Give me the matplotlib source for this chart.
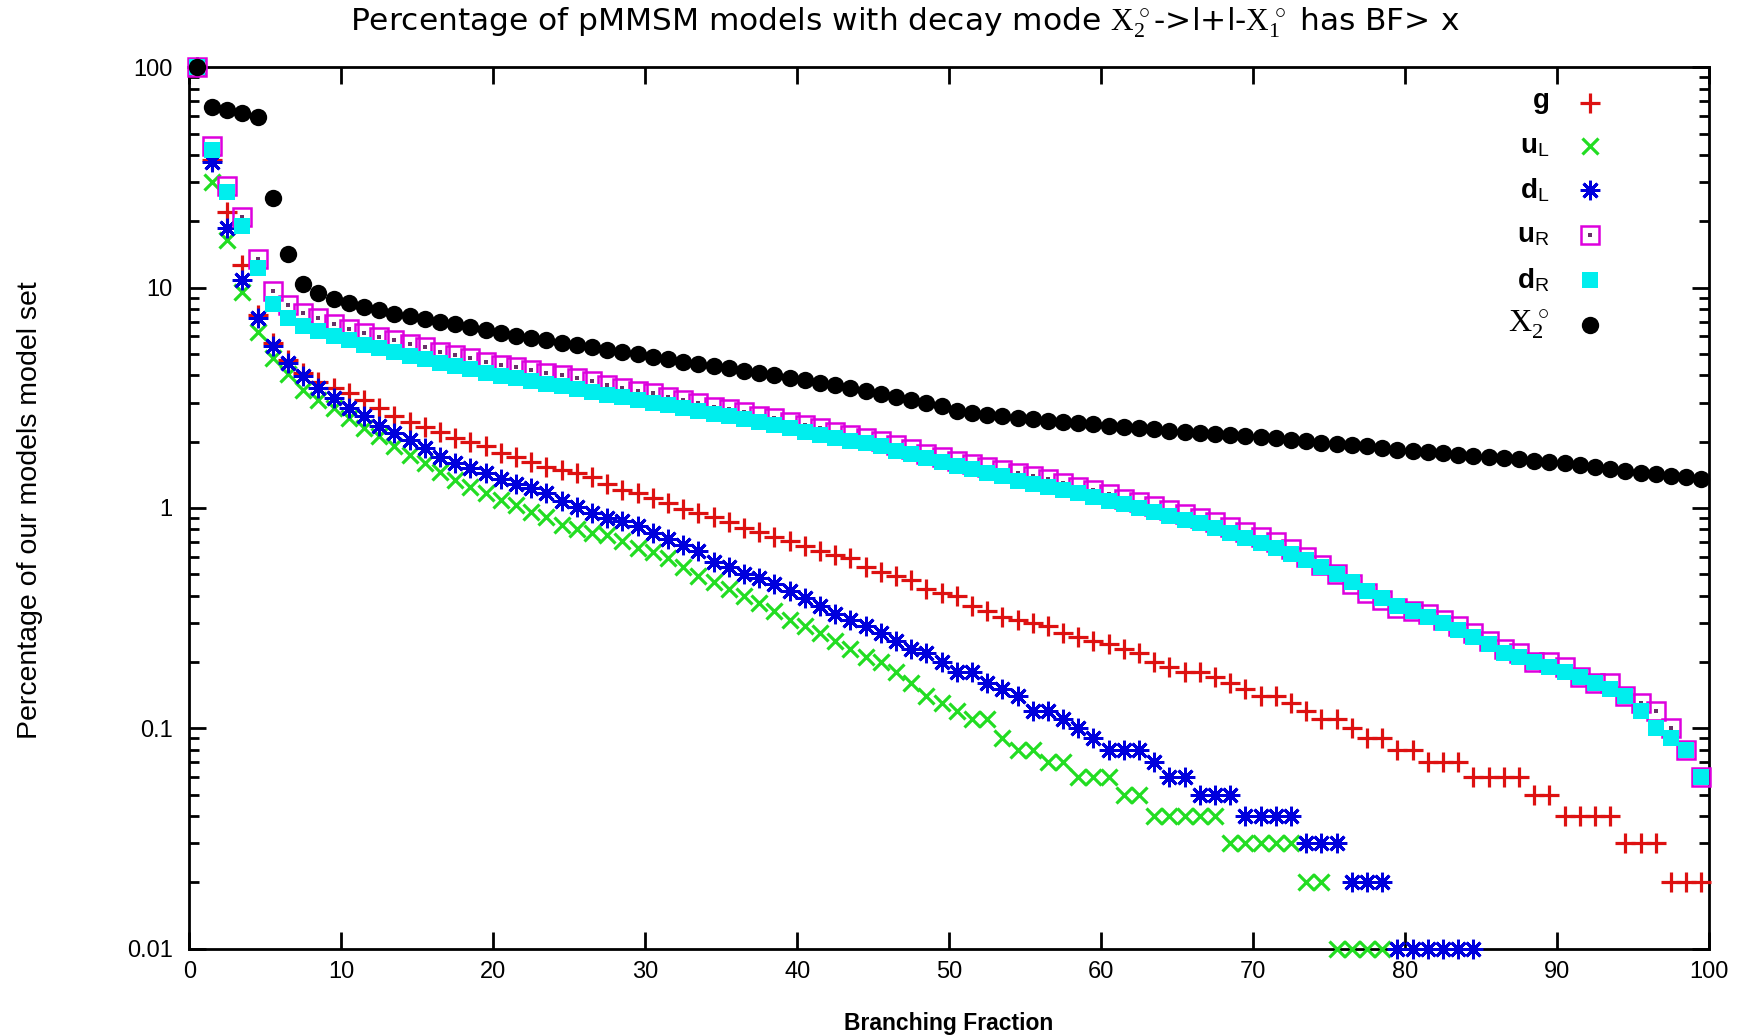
import numpy as np
import matplotlib
matplotlib.use('Agg')
import matplotlib.pyplot as plt
from matplotlib.ticker import FixedLocator, LogLocator, NullFormatter

nan = np.nan

# Branching-fraction bins (bin centres, %)
bf = np.arange(0.5, 100.0, 1.0)

g = [100, 38, 22, 12.7, 7.5, 5.6, 4.7, 4.1, 3.74, 3.49,
     3.31, 3.09, 2.83, 2.6, 2.46, 2.33, 2.2, 2.08, 2.0, 1.9,
     1.78, 1.71, 1.62, 1.54, 1.49, 1.44, 1.38, 1.29, 1.21, 1.17,
     1.11, 1.05, 0.99, 0.95, 0.91, 0.86, 0.81, 0.78, 0.74, 0.71,
     0.67, 0.64, 0.61, 0.59, 0.54, 0.51, 0.49, 0.47, 0.43, 0.41,
     0.40, 0.36, 0.34, 0.32, 0.31, 0.30, 0.29, 0.27, 0.26, 0.25,
     0.24, 0.23, 0.22, 0.20, 0.19, 0.18, 0.18, 0.17, 0.16, 0.15,
     0.14, 0.14, 0.13, 0.12, 0.11, 0.11, 0.10, 0.09, 0.09, 0.08,
     0.08, 0.07, 0.07, 0.07, 0.06, 0.06, 0.06, 0.06, 0.05, 0.05,
     0.04, 0.04, 0.04, 0.04, 0.03, 0.03, 0.03, 0.02, 0.02, 0.02]

uL = [100, 30, 16.5, 9.5, 6.3, 4.8, 4.05, 3.43, 3.09, 2.83,
      2.55, 2.3, 2.11, 1.9, 1.74, 1.6, 1.46, 1.34, 1.25, 1.17,
      1.09, 1.03, 0.96, 0.91, 0.84, 0.8, 0.77, 0.75, 0.71, 0.66,
      0.63, 0.59, 0.54, 0.49, 0.46, 0.43, 0.4, 0.37, 0.34, 0.31,
      0.29, 0.27, 0.25, 0.23, 0.21, 0.2, 0.18, 0.16, 0.14, 0.13,
      0.12, 0.11, 0.11, 0.09, 0.08, 0.08, 0.07, 0.07, 0.06, 0.06,
      0.06, 0.05, 0.05, 0.04, 0.04, 0.04, 0.04, 0.04, 0.03, 0.03,
      0.03, 0.03, 0.03, 0.02, 0.02, 0.01, 0.01, 0.01, 0.01, nan,
      nan, nan, nan, nan, nan, nan, nan, nan, nan, nan,
      nan, nan, nan, nan, nan, nan, nan, nan, nan, nan]

dL = [100, 37, 18.6, 10.8, 7.3, 5.45, 4.53, 3.95, 3.49, 3.15,
      2.83, 2.6, 2.36, 2.18, 2.04, 1.87, 1.71, 1.6, 1.51, 1.44,
      1.35, 1.29, 1.23, 1.17, 1.07, 1.01, 0.95, 0.9, 0.87, 0.83,
      0.77, 0.72, 0.68, 0.64, 0.57, 0.54, 0.5, 0.48, 0.45, 0.42,
      0.39, 0.36, 0.33, 0.31, 0.29, 0.27, 0.25, 0.23, 0.22, 0.2,
      0.18, 0.18, 0.16, 0.15, 0.14, 0.12, 0.12, 0.11, 0.1, 0.09,
      0.08, 0.08, 0.08, 0.07, 0.06, 0.06, 0.05, 0.05, 0.05, 0.04,
      0.04, 0.04, 0.04, 0.03, 0.03, 0.03, 0.02, 0.02, 0.02, 0.01,
      0.01, 0.01, 0.01, 0.01, 0.01, nan, nan, nan, nan, nan,
      nan, nan, nan, nan, nan, nan, nan, nan, nan, nan]

uR = [100, 44, 29, 21, 13.5, 9.6, 8.3, 7.65, 7.26, 6.8,
      6.46, 6.2, 5.98, 5.78, 5.55, 5.36, 5.12, 4.95, 4.78, 4.61,
      4.46, 4.35, 4.23, 4.11, 4.01, 3.88, 3.76, 3.6, 3.49, 3.4,
      3.31, 3.2, 3.09, 2.98, 2.88, 2.8, 2.71, 2.62, 2.55, 2.46,
      2.38, 2.3, 2.2, 2.14, 2.08, 2.02, 1.93, 1.85, 1.76, 1.71,
      1.64, 1.58, 1.54, 1.48, 1.44, 1.39, 1.35, 1.3, 1.25, 1.2,
      1.15, 1.1, 1.06, 1.02, 0.98, 0.94, 0.9, 0.86, 0.82, 0.78,
      0.74, 0.7, 0.65, 0.6, 0.55, 0.5, 0.45, 0.41, 0.38, 0.35,
      0.34, 0.33, 0.31, 0.29, 0.27, 0.25, 0.23, 0.22, 0.2, 0.2,
      0.19, 0.17, 0.16, 0.16, 0.14, 0.13, 0.12, 0.1, 0.08, 0.06]

dR = [100, 42, 27, 19, 12.3, 8.4, 7.3, 6.7, 6.35, 6.0,
      5.75, 5.5, 5.3, 5.1, 4.9, 4.75, 4.55, 4.4, 4.25, 4.1,
      3.97, 3.87, 3.76, 3.66, 3.56, 3.45, 3.35, 3.25, 3.17, 3.09,
      3.0, 2.92, 2.84, 2.76, 2.68, 2.6, 2.52, 2.45, 2.37, 2.3,
      2.22, 2.15, 2.08, 2.02, 1.96, 1.9, 1.82, 1.75, 1.68, 1.62,
      1.55, 1.5, 1.44, 1.39, 1.33, 1.29, 1.25, 1.21, 1.17, 1.12,
      1.08, 1.04, 1.0, 0.96, 0.92, 0.88, 0.85, 0.81, 0.77, 0.73,
      0.69, 0.66, 0.62, 0.58, 0.54, 0.5, 0.46, 0.42, 0.39, 0.36,
      0.34, 0.32, 0.3, 0.28, 0.26, 0.24, 0.22, 0.21, 0.2, 0.19,
      0.18, 0.17, 0.16, 0.15, 0.14, 0.12, 0.1, 0.09, 0.08, 0.06]

X2 = [100, 66, 64, 62, 59.5, 25.5, 14.2, 10.4, 9.4, 8.9,
      8.5, 8.2, 7.9, 7.6, 7.4, 7.2, 7.0, 6.8, 6.6, 6.4,
      6.2, 6.05, 5.9, 5.75, 5.6, 5.5, 5.35, 5.2, 5.1, 5.0,
      4.85, 4.75, 4.6, 4.5, 4.4, 4.3, 4.2, 4.1, 4.0, 3.9,
      3.8, 3.7, 3.6, 3.5, 3.4, 3.3, 3.2, 3.1, 3.0, 2.9,
      2.75, 2.7, 2.65, 2.6, 2.56, 2.52, 2.48, 2.45, 2.42, 2.39,
      2.36, 2.33, 2.3, 2.27, 2.24, 2.21, 2.18, 2.16, 2.14, 2.12,
      2.1, 2.07, 2.04, 2.01, 1.98, 1.95, 1.92, 1.9, 1.87, 1.84,
      1.82, 1.79, 1.77, 1.74, 1.72, 1.7, 1.68, 1.66, 1.63, 1.61,
      1.59, 1.56, 1.53, 1.5, 1.47, 1.44, 1.42, 1.4, 1.38, 1.35]

x_ticks = [0, 10, 20, 30, 40, 50, 60, 70, 80, 90, 100]
y_ticks = [0.01, 0.1, 1, 10, 100]
y_ticklabels = ['0.01', '0.1', '1', '10', '100']

plt.rcParams['font.family'] = ['Liberation Sans', 'DejaVu Sans']
plt.rcParams['mathtext.fontset'] = 'custom'
plt.rcParams['mathtext.rm'] = 'Liberation Serif'
plt.rcParams['mathtext.it'] = 'Liberation Serif:italic'
plt.rcParams['mathtext.bf'] = 'Liberation Sans:bold'
plt.rcParams['mathtext.sf'] = 'Liberation Sans'

fig = plt.figure(figsize=(17.56, 10.35), dpi=100)
ax = fig.add_axes([0.1078, 0.0835, 0.8654, 0.8516])
ax.set_yscale('log')
ax.set_xlim(0, 100)
ax.set_ylim(0.01, 100)

styles = [
    dict(marker='+', color='#dd1111', ms=14, mew=2.3),
    dict(marker='x', color='#22dd22', ms=12, mew=2.3),
    dict(marker=(8, 2, 0), color='#0000dd', ms=14, mew=2.1),
    dict(marker='s', color='#dd00dd', mfc='none', mec='#dd00dd', ms=12.5, mew=1.8),
    dict(marker='s', color='#00eeee', ms=11.5, mew=0),
    dict(marker='o', color='black', ms=12.5, mew=0),
]
series = [g, uL, dL, uR, dR, X2]
labels = [r'$\mathbf{g}$', r'$\mathbf{u}_{\mathsf{L}}$', r'$\mathbf{d}_{\mathsf{L}}$',
          r'$\mathbf{u}_{\mathsf{R}}$', r'$\mathbf{d}_{\mathsf{R}}$', r'$\mathrm{X}_2^{\,\circ}$']

for vals, st in zip(series, styles):
    ax.plot(bf, vals, linestyle='none', clip_on=False, zorder=3, **st)
    if st['marker'] == 's' and st.get('mfc') == 'none':
        ax.plot(bf, vals, linestyle='none', marker='s', ms=2.2, color='#663366', mew=0,
                clip_on=False, zorder=3)

# manual legend (right aligned labels, markers to the right)
leg_y = [0.9594, 0.911, 0.8602, 0.8094, 0.7586, 0.7077]
for lab, st, yy in zip(labels, styles, leg_y):
    fs = 23 if 'X' in lab else 20
    ax.text(0.895, yy, lab, transform=ax.transAxes, ha='right', va='center', fontsize=fs)
    ax.plot([0.9217], [yy], transform=ax.transAxes, linestyle='none', clip_on=False, **st)
    if st['marker'] == 's' and st.get('mfc') == 'none':
        ax.plot([0.9217], [yy], transform=ax.transAxes, linestyle='none', marker='s', ms=2.2,
                color='#663366', mew=0, clip_on=False)

ax.set_xticks(x_ticks)
ax.set_xticklabels([str(v) for v in x_ticks])
ax.yaxis.set_major_locator(FixedLocator(y_ticks))
ax.set_yticklabels(y_ticklabels)
ax.yaxis.set_minor_locator(LogLocator(base=10, subs=np.arange(2, 10)))
ax.yaxis.set_minor_formatter(NullFormatter())
ax.tick_params(which='both', direction='in', top=True, right=True, width=2)
ax.tick_params(which='major', length=12, labelsize=17)
ax.tick_params(which='minor', length=7)
ax.tick_params(axis='x', pad=9)
ax.tick_params(axis='y', pad=12)
for sp in ax.spines.values():
    sp.set_linewidth(2)

ax.set_xlabel('Branching Fraction', fontsize=16.5, fontweight='bold')
ax.xaxis.set_label_coords(0.5, -0.072)

fig.text(0.0171, 0.5072, 'Percentage of our models model set', rotation=90,
         ha='center', va='center', fontsize=20.5)

fig.text(0.5154, 0.978,
         r'Percentage of pMMSM models with decay mode $\mathrm{X}_2^{\,\circ}$->l+l-$\mathrm{X}_1^{\,\circ}$ has BF> x',
         ha='center', va='center', fontsize=22.5, family=['DejaVu Sans'])

fig.savefig('out.png', dpi=100)
